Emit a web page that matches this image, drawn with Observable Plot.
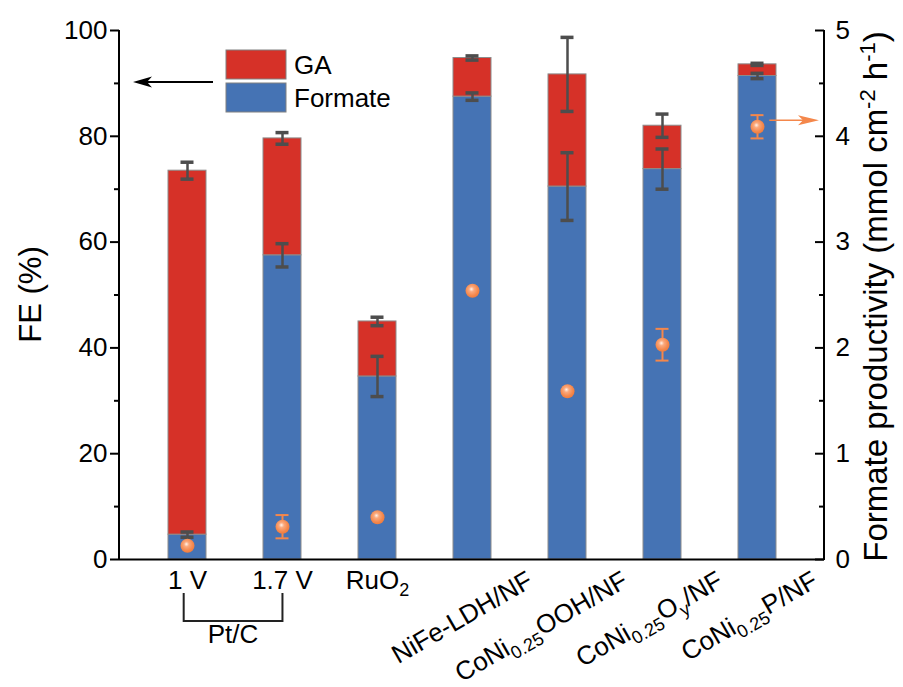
<!DOCTYPE html>
<html><head><meta charset="utf-8">
<script src="https://cdn.jsdelivr.net/npm/d3@7"></script>
<script src="https://cdn.jsdelivr.net/npm/@observablehq/plot@0.6"></script>
<style>
body{margin:0;background:#fff;}
#chart svg{display:block;}
</style></head><body><div id="chart"></div>
<script>
// ---- data ----
const categories = ["1 V","1.7 V","RuO2","NiFe-LDH/NF","CoNi0.25OOH/NF","CoNi0.25Oy/NF","CoNi0.25P/NF"];
const categoryLabels = ["1 V","1.7 V","RuO_{2}","NiFe-LDH/NF","CoNi_{0.25}OOH/NF","CoNi_{0.25}O_{y}/NF","CoNi_{0.25}P/NF"];
const formateFE = [4.7, 57.5, 34.6, 87.5, 70.5, 73.8, 91.4];
const formateErr = [0.5, 2.2, 3.8, 0.7, 6.4, 3.8, 0.5];
const gaFE = [68.8, 22.1, 10.4, 7.3, 21.2, 8.2, 2.2];
const totalErr = [1.6, 1.1, 0.8, 0.4, 7.0, 2.2, 0.2];
const productivity = [0.13, 0.31, 0.40, 2.54, 1.59, 2.03, 4.09];
const productivityErr = [0, 0.11, 0, 0, 0, 0.15, 0.11];
const seriesNames = ["Formate", "GA"];
const leftTicks = [0, 20, 40, 60, 80, 100];
const leftMinor = [10, 30, 50, 70, 90];
const rightTicks = [0, 1, 2, 3, 4, 5];
const rightMinor = [0.5, 1.5, 2.5, 3.5, 4.5];
const groupLabel = "Pt/C";
const horizontalCount = 3;

// ---- styles ----
const RED = "#D63128", BLUE = "#4573B4", ERR = "#4d4d4d", ORANGE = "#F4874B";
const FONT = "Arial, 'Liberation Sans', sans-serif";
const S = 100 / rightTicks[rightTicks.length - 1]; // right axis (0-5) onto left (0-100)

const stacked = categories.flatMap((c, i) => [
  {cat: c, series: seriesNames[0], value: formateFE[i]},
  {cat: c, series: seriesNames[1], value: gaFE[i]}
]);
const feErr = categories.flatMap((c, i) => {
  const total = formateFE[i] + gaFE[i];
  return [
    {cat: c, lo: formateFE[i] - formateErr[i], hi: formateFE[i] + formateErr[i]},
    {cat: c, lo: total - totalErr[i], hi: total + totalErr[i]}
  ];
});
const prod = categories.map((c, i) => ({cat: c, p: productivity[i], e: productivityErr[i]}));
const prodErr = prod.filter(d => d.e > 0);
const labels = categories.map((c, i) => ({cat: c, label: categoryLabels[i]}));

const chart = Plot.plot({
  width: 903, height: 687,
  marginTop: 30, marginBottom: 128, marginLeft: 119, marginRight: 79,
  style: {fontFamily: FONT, background: "white", color: "black", overflow: "visible"},
  x: {domain: categories, type: "band", paddingInner: 0.6, paddingOuter: 0.5, axis: null},
  y: {domain: [0, 100], axis: null},
  color: {domain: seriesNames, range: [BLUE, RED]},
  marks: [
    Plot.barY(stacked, {x: "cat", y: "value", fill: "series", stroke: "#8c8c8c", strokeWidth: 1}),
    Plot.ruleX(feErr, {x: "cat", y1: "lo", y2: "hi", stroke: ERR, strokeWidth: 2.5}),
    Plot.tickY(feErr, {x: "cat", y: "lo", insetLeft: 12.5, insetRight: 12.5, stroke: ERR, strokeWidth: 3.5}),
    Plot.tickY(feErr, {x: "cat", y: "hi", insetLeft: 12.5, insetRight: 12.5, stroke: ERR, strokeWidth: 3.5}),
    Plot.ruleX(prodErr, {x: "cat", y1: d => (d.p - d.e) * S, y2: d => (d.p + d.e) * S, stroke: ORANGE, strokeWidth: 2}),
    Plot.tickY(prodErr, {x: "cat", y: d => (d.p - d.e) * S, insetLeft: 12.5, insetRight: 12.5, stroke: ORANGE, strokeWidth: 2}),
    Plot.tickY(prodErr, {x: "cat", y: d => (d.p + d.e) * S, insetLeft: 12.5, insetRight: 12.5, stroke: ORANGE, strokeWidth: 2}),
    Plot.dot(prod, {x: "cat", y: d => d.p * S, r: 7, fill: "url(#ball)", stroke: "none"}),
    Plot.axisY({anchor: "left", ticks: leftTicks, tickSize: 9, tickPadding: 3, fontSize: 26, strokeWidth: 2, label: null}),
    Plot.axisY({anchor: "left", ticks: leftMinor, tickSize: 5, tickFormat: () => "", strokeWidth: 2, label: null}),
    Plot.axisY({anchor: "right", ticks: rightTicks.map(t => t * S), tickFormat: d => d / S, tickSize: 0, tickPadding: 11, fontSize: 26, label: null}),
    Plot.ruleY(rightTicks.map(t => t * S), {insetLeft: 696, stroke: "black", strokeWidth: 2}),
    Plot.ruleY(rightMinor.map(t => t * S), {insetLeft: 700, stroke: "black", strokeWidth: 2}),
    Plot.ruleY([0], {stroke: "black", strokeWidth: 2}),
    Plot.text(labels.slice(0, horizontalCount), {x: "cat", text: "label", frameAnchor: "bottom", lineAnchor: "bottom", dy: 29, fontSize: 26}),
    Plot.text(labels.slice(horizontalCount), {x: "cat", text: "label", frameAnchor: "bottom", lineAnchor: "bottom", rotate: -30, textAnchor: "end", dx: 62, dy: 26, fontSize: 26})
  ]
});

document.getElementById("chart").appendChild(chart);
const svg = d3.select(chart);

// gradient for the productivity balls
const defs = svg.insert("defs", ":first-child");
const g = defs.append("radialGradient").attr("id", "ball").attr("cx", 0.45).attr("cy", 0.42).attr("r", 0.6).attr("fx", 0.42).attr("fy", 0.38);
g.append("stop").attr("offset", 0).attr("stop-color", "#fff4ec");
g.append("stop").attr("offset", 0.3).attr("stop-color", "#fba97d");
g.append("stop").attr("offset", 0.75).attr("stop-color", "#f4874b");
g.append("stop").attr("offset", 1).attr("stop-color", "#ee7a3c");

// subscripts in category labels
svg.selectAll("text").filter(function() { return /_\{/.test(this.textContent); }).each(function() {
  const raw = this.textContent;
  const parts = raw.split(/_\{([^}]*)\}/);
  const t = d3.select(this);
  t.selectAll("*").remove();
  t.text(null);
  let shift = 0;
  parts.forEach((p, k) => {
    if (!p) return;
    const sub = k % 2 === 1;
    const dy = sub ? 7 - shift : -shift;
    shift = sub ? 7 : 0;
    const ts = t.append("tspan").text(p);
    if (dy) ts.attr("dy", dy);
    if (sub) ts.attr("font-size", 18);
  });
});

// frame geometry from the plot's own scales
const xs = chart.scale("x"), ys = chart.scale("y");
const band = d3.scaleBand(xs.domain, xs.range).paddingInner(xs.paddingInner).paddingOuter(xs.paddingOuter).align(xs.align ?? 0.5);
const cx = c => band(c) + band.bandwidth() / 2;
const y = d3.scaleLinear(ys.domain, ys.range);
const [L, R] = xs.range;
const [B, T] = ys.range;

const ann = svg.append("g").attr("font-family", FONT).attr("fill", "black");
// axis lines
ann.append("line").attr("x1", L).attr("x2", L).attr("y1", T).attr("y2", B + 1).attr("stroke", "black").attr("stroke-width", 2);
ann.append("line").attr("x1", R).attr("x2", R).attr("y1", T).attr("y2", B + 1).attr("stroke", "black").attr("stroke-width", 2);

// Pt/C bracket under the two Pt/C categories
const bx1 = cx(categories[0]) - 2, bx2 = cx(categories[1]) + 1.5;
ann.append("path").attr("d", `M${bx1},${B + 34}V${B + 62}H${bx2}V${B + 34}`).attr("fill", "none").attr("stroke", "#222").attr("stroke-width", 2);
ann.append("text").attr("x", (bx1 + bx2) / 2).attr("y", B + 84).attr("text-anchor", "middle").attr("font-size", 26).text(groupLabel);

// legend
const lx = L + 107;
[[seriesNames[1], RED, T + 20], [seriesNames[0], BLUE, T + 53]].forEach(([name, col, yy]) => {
  ann.append("rect").attr("x", lx).attr("y", yy).attr("width", 60).attr("height", 29).attr("fill", col).attr("stroke", "#808080").attr("stroke-width", 1);
  ann.append("text").attr("x", lx + 68).attr("y", yy + 24).attr("text-anchor", "start").attr("font-size", 26).text(name);
});

// black arrow pointing to left axis
const ay = T + 52;
ann.append("line").attr("x1", L + 94).attr("x2", L + 20).attr("y1", ay).attr("y2", ay).attr("stroke", "black").attr("stroke-width", 2);
ann.append("path").attr("d", `M${L + 14},${ay}L${L + 33},${ay - 5.5}L${L + 28},${ay}L${L + 33},${ay + 5.5}Z`).attr("fill", "black");

// orange arrow pointing to right axis
const oy = y(productivity[6] * S) - 6;
const ox = cx(categories[6]) + 12;
ann.append("line").attr("x1", ox).attr("x2", R - 10).attr("y1", oy).attr("y2", oy).attr("stroke", ORANGE).attr("stroke-width", 1.6);
ann.append("path").attr("d", `M${R - 5},${oy}L${R - 26},${oy - 5}L${R - 21},${oy}L${R - 26},${oy + 5}Z`).attr("fill", ORANGE);

// axis titles
ann.append("text").attr("transform", `translate(41,${(T + B) / 2}) rotate(-90)`).attr("text-anchor", "middle").attr("font-size", 31).text("FE (%)");
const rt = ann.append("text").attr("transform", `translate(887,${(T + B) / 2 + 2}) rotate(-90)`).attr("text-anchor", "middle").attr("font-size", 33);
rt.append("tspan").text("Formate productivity (mmol cm");
rt.append("tspan").attr("dy", -12).attr("font-size", 22).text("-2");
rt.append("tspan").attr("dy", 12).text(" h");
rt.append("tspan").attr("dy", -12).attr("font-size", 22).text("-1");
rt.append("tspan").attr("dy", 12).text(")");
</script>
</body></html>
